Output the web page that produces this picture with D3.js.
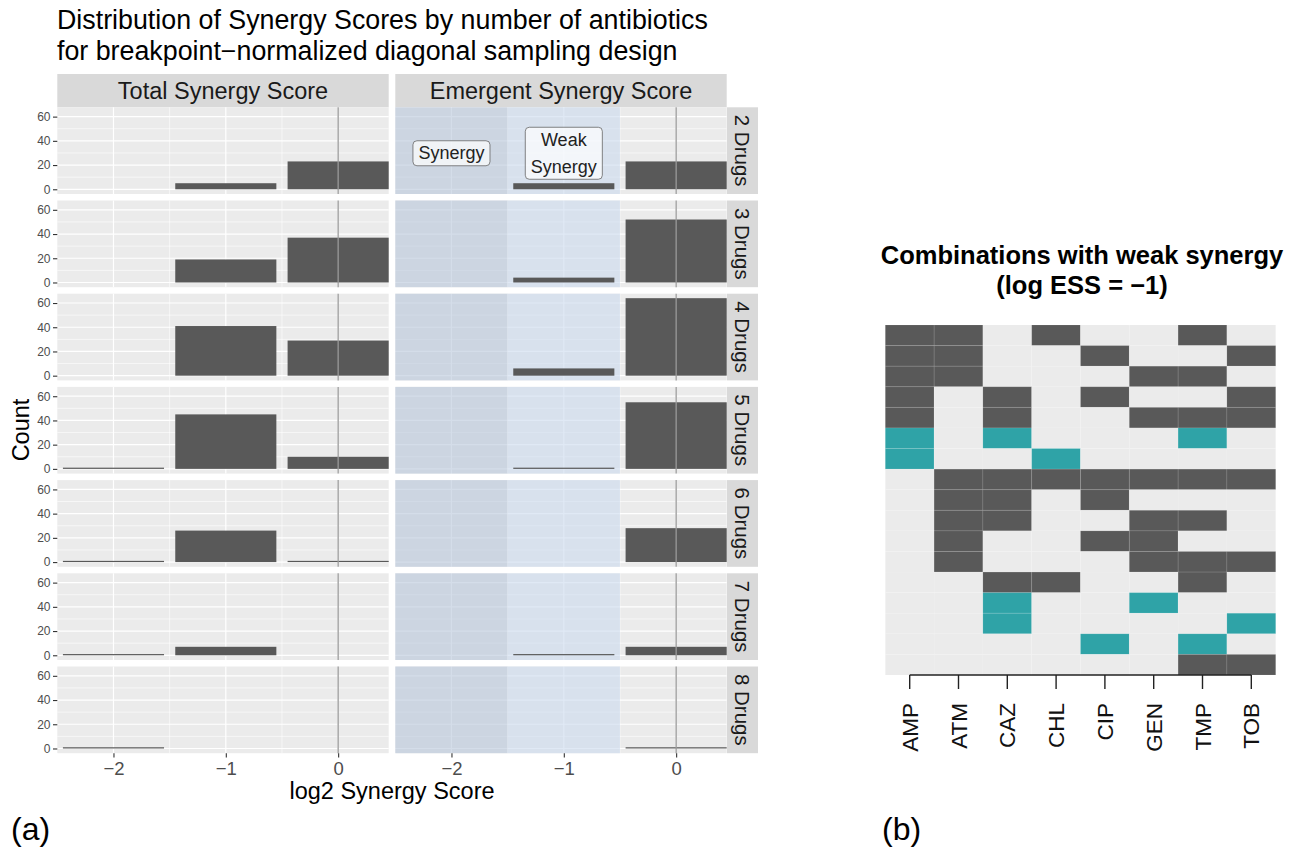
<!DOCTYPE html>
<html><head><meta charset="utf-8">
<script src="https://cdn.jsdelivr.net/npm/d3@7"></script>
<style>body{margin:0;background:#fff} svg{display:block} text{font-family:"Liberation Sans", Arial, Helvetica, sans-serif}</style>
</head><body><svg id="c" width="1301" height="852"></svg>
<script>
// ---------- data ----------
const drugLevels = ["2 Drugs","3 Drugs","4 Drugs","5 Drugs","6 Drugs","7 Drugs","8 Drugs"];
const scoreBins = [-2, -1, 0];
const totalSynergyCounts    = [[0,5,23],[0,19,37],[0,41,29],[1,45,10],[1,26,1],[1,7,0],[1,0,0]];
const emergentSynergyCounts = [[0,5,23],[0,4,52],[0,6,64],[0,1,55],[0,0,28],[0,1,7],[0,0,1]];
const facetTitles = ["Total Synergy Score","Emergent Synergy Score"];
const yTicks = [0,20,40,60];
const yMinor = [10,30,50];
const xTicks = [-2,-1,0];
const xMinor = [-1.5,-0.5];
const regionBounds = [[-2.5,-1.5],[-1.5,-0.5]];
const regionLabels = [["Synergy"],["Weak","Synergy"]];
const regionLabelX = [-2,-1];
const regionLabelY = 30;

const drugs = ["AMP","ATM","CAZ","CHL","CIP","GEN","TMP","TOB"];
const comboDrugs = [
  ["AMP","ATM","CHL","TMP"],
  ["AMP","ATM","CIP","TOB"],
  ["AMP","ATM","GEN","TMP"],
  ["AMP","CAZ","CIP","TOB"],
  ["AMP","CAZ","GEN","TMP","TOB"],
  ["AMP","CAZ","TMP"],
  ["AMP","CHL"],
  ["ATM","CAZ","CHL","CIP","GEN","TMP","TOB"],
  ["ATM","CAZ","CIP"],
  ["ATM","CAZ","GEN","TMP"],
  ["ATM","CIP","GEN"],
  ["ATM","GEN","TMP","TOB"],
  ["CAZ","CHL","TMP"],
  ["CAZ","GEN"],
  ["CAZ","TOB"],
  ["CIP","TMP"],
  ["TMP","TOB"]
];
const comboHighlight = [0,0,0,0,0,1,1,0,0,0,0,0,0,1,1,1,0];

// ---------- layout ----------
const svg = d3.select("#c");
const colLeft = [57.3, 395.3], panelW = 331.4;
const top0 = 107.3, step = 93.2, panelH = 86.7;
const x = d3.scaleLinear().domain([-2.5, 0.45]).range([0, panelW]);
const y = d3.scaleLinear().domain([-3.9, 67.7]).range([panelH, 0]);
const BAR = "#595959", BG = "#EBEBEB", STRIP = "#D9D9D9";
const FF = '"Liberation Sans", Arial, sans-serif';

// title
svg.append("text").attr("x",57).attr("y",28.5).attr("font-size",26.8).attr("fill","#000")
  .text("Distribution of Synergy Scores by number of antibiotics");
svg.append("text").attr("x",57).attr("y",59.5).attr("font-size",26.8).attr("fill","#000")
  .text("for breakpoint\u2212normalized diagonal sampling design");

// top strips
facetTitles.forEach((t,c)=>{
  svg.append("rect").attr("x",colLeft[c]).attr("y",74).attr("width",panelW).attr("height",33.3).attr("fill",STRIP);
  svg.append("text").attr("x",colLeft[c]+panelW/2).attr("y",99.3).attr("text-anchor","middle")
    .attr("font-size",23.5).attr("fill","#1A1A1A").text(t);
});

const dataByCol = [totalSynergyCounts, emergentSynergyCounts];
drugLevels.forEach((lvl,r)=>{
  const ty = top0 + r*step;
  for (let c=0;c<2;c++){
    const g = svg.append("g").attr("transform",`translate(${colLeft[c]},${ty})`);
    g.append("rect").attr("width",panelW).attr("height",panelH).attr("fill",BG);
    // minor grid
    g.selectAll(".hmin").data(yMinor).join("line").attr("x1",0).attr("x2",panelW)
      .attr("y1",d=>y(d)).attr("y2",d=>y(d)).attr("stroke","#fff").attr("stroke-width",0.6);
    g.selectAll(".vmin").data(xMinor).join("line").attr("y1",0).attr("y2",panelH)
      .attr("x1",d=>x(d)).attr("x2",d=>x(d)).attr("stroke","#fff").attr("stroke-width",0.6);
    // major grid
    g.selectAll(".hmaj").data(yTicks).join("line").attr("x1",0).attr("x2",panelW)
      .attr("y1",d=>y(d)).attr("y2",d=>y(d)).attr("stroke","#fff").attr("stroke-width",1.2);
    g.selectAll(".vmaj").data(xTicks).join("line").attr("y1",0).attr("y2",panelH)
      .attr("x1",d=>x(d)).attr("x2",d=>x(d)).attr("stroke","#fff").attr("stroke-width",1.2);
    if (c===1){
      const fills = ["rgb(183,199,219)","rgb(203,219,238)"];
      regionBounds.forEach((b,i)=>{
        g.append("rect").attr("x",x(b[0])).attr("width",x(b[1])-x(b[0])).attr("y",0).attr("height",panelH)
          .attr("fill",fills[i]).attr("opacity",0.6);
      });
    }
    // bars
    const counts = dataByCol[c][r];
    g.selectAll(".bar").data(scoreBins.map((b,i)=>({b, n:counts[i]})).filter(d=>d.n>0)).join("rect")
      .attr("x",d=>x(d.b-0.45)).attr("width",d=>x(d.b+0.45)-x(d.b-0.45))
      .attr("y",d=>y(d.n)).attr("height",d=>y(0)-y(d.n)).attr("fill",BAR);
    // vline at 0
    g.append("line").attr("x1",x(0)).attr("x2",x(0)).attr("y1",0).attr("y2",panelH)
      .attr("stroke","#9a9a9a").attr("stroke-width",1.3);
    // region labels
    if (c===1 && r===0){
      regionLabels.forEach((lines,i)=>{
        const lg = g.append("g");
        const cx = x(regionLabelX[i]), cy = y(regionLabelY);
        const lh = 27;
        const t = lg.append("text").attr("text-anchor","middle").attr("font-size",18).attr("fill","#222");
        lines.forEach((ln,k)=>{
          t.append("tspan").attr("x",cx).attr("y",cy + (k-(lines.length-1)/2)*lh).attr("dy","0.35em").text(ln);
        });
        const bb = t.node().getBBox();
        const padX = 5.5, padY = 2.5;
        lg.insert("rect","text").attr("x",bb.x-padX).attr("y",bb.y-padY)
          .attr("width",bb.width+2*padX).attr("height",bb.height+2*padY)
          .attr("rx",4).attr("fill","#fff").attr("fill-opacity",0.7)
          .attr("stroke","#666").attr("stroke-width",0.8);
      });
    }
    // x axis on bottom row
    if (r===drugLevels.length-1){
      const ax = g.append("g").attr("transform",`translate(0,${panelH})`)
        .call(d3.axisBottom(x).tickValues(xTicks).tickFormat(d3.format("d")).tickSize(4.3).tickPadding(4).tickSizeOuter(0));
      ax.select(".domain").remove();
      ax.selectAll(".tick line").attr("stroke","#333").attr("stroke-width",1.1);
      ax.selectAll(".tick text").attr("font-size",18.5).attr("fill","#4D4D4D").attr("font-family",FF);
    }
  }
  // y axis
  const ay = svg.append("g").attr("transform",`translate(${colLeft[0]},${ty})`)
    .call(d3.axisLeft(y).tickValues(yTicks).tickSize(4.3).tickPadding(2.5).tickSizeOuter(0));
  ay.select(".domain").remove();
  ay.selectAll(".tick line").attr("stroke","#333").attr("stroke-width",1.1);
  ay.selectAll(".tick text").attr("font-size",12).attr("fill","#4D4D4D").attr("font-family",FF);
  // right strip
  svg.append("rect").attr("x",727).attr("y",ty).attr("width",31).attr("height",panelH).attr("fill",STRIP);
  svg.append("text").attr("transform",`translate(734.5,${ty+panelH/2}) rotate(90)`)
    .attr("text-anchor","middle").attr("font-size",20.5).attr("fill","#1A1A1A").text(lvl);
});

// axis titles
svg.append("text").attr("transform","translate(29,430) rotate(-90)").attr("text-anchor","middle")
  .attr("font-size",23.5).attr("fill","#000").text("Count");
svg.append("text").attr("x",392).attr("y",798.5).attr("text-anchor","middle")
  .attr("font-size",23.5).attr("fill","#000").text("log2 Synergy Score");

// panel letters
svg.append("text").attr("x",11).attr("y",840).attr("font-size",32).attr("fill","#000").text("(a)");
svg.append("text").attr("x",882).attr("y",840).attr("font-size",32).attr("fill","#000").text("(b)");

// ---------- heatmap ----------
const hx = d3.scaleBand().domain(drugs).range([885.3, 1275.7]);
const hy = d3.scaleBand().domain(d3.range(comboDrugs.length)).range([325, 675]);
const cells = [];
comboDrugs.forEach((set,i)=>drugs.forEach(dname=>{
  cells.push({row:i, drug:dname, on:set.includes(dname), hl:comboHighlight[i]===1});
}));
svg.append("g").selectAll("rect").data(cells).join("rect")
  .attr("x",d=>hx(d.drug)).attr("y",d=>hy(d.row))
  .attr("width",hx.bandwidth()).attr("height",hy.bandwidth())
  .attr("fill",d=>d.on ? (d.hl ? "#2FA3A7" : "#595959") : "#EBEBEB")
  .attr("stroke","rgba(255,255,255,0.09)").attr("stroke-width",1);

const hb = svg.append("g").attr("transform","translate(0,675)")
  .call(d3.axisBottom(hx).tickSize(14).tickSizeOuter(0).tickFormat(""));
hb.select(".domain").remove();
hb.selectAll(".tick line").attr("stroke","#222").attr("stroke-width",1.4);
svg.append("line")
  .attr("x1",hx(drugs[0])+hx.bandwidth()/2).attr("x2",hx(drugs[drugs.length-1])+hx.bandwidth()/2)
  .attr("y1",675).attr("y2",675).attr("stroke","#222").attr("stroke-width",1.4);
svg.append("g").selectAll("text").data(drugs).join("text")
  .attr("transform",d=>`translate(${hx(d)+hx.bandwidth()/2+8},703) rotate(-90)`)
  .attr("text-anchor","end").attr("font-size",22.5).attr("fill","#111").text(d=>d);

svg.append("text").attr("x",1082).attr("y",264).attr("text-anchor","middle")
  .attr("font-size",25.5).attr("font-weight","bold").attr("fill","#000").text("Combinations with weak synergy");
svg.append("text").attr("x",1082).attr("y",294).attr("text-anchor","middle")
  .attr("font-size",25.5).attr("font-weight","bold").attr("fill","#000").text("(log ESS = \u22121)");
</script></body></html>
